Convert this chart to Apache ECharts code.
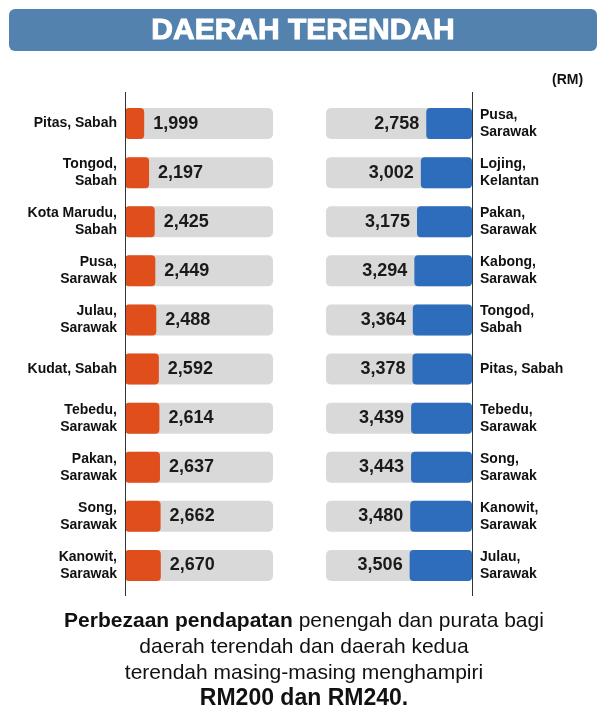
<!DOCTYPE html>
<html>
<head>
<meta charset="utf-8">
<script src="https://cdn.jsdelivr.net/npm/echarts@6/dist/echarts.min.js"></script>
<style>
  html, body { margin: 0; padding: 0; background: #fff; }
  #chart { width: 616px; height: 728px; }
</style>
</head>
<body>
<div id="chart"></div>
<script>
// left side: pendapatan penengah (orange), right side: purata (blue)
var leftNames = ['Pitas, Sabah', 'Tongod,\nSabah', 'Kota Marudu,\nSabah', 'Pusa,\nSarawak', 'Julau,\nSarawak',
    'Kudat, Sabah', 'Tebedu,\nSarawak', 'Pakan,\nSarawak', 'Song,\nSarawak', 'Kanowit,\nSarawak'];
var leftValues = [1999, 2197, 2425, 2449, 2488, 2592, 2614, 2637, 2662, 2670];

var rightNames = ['Pusa,\nSarawak', 'Lojing,\nKelantan', 'Pakan,\nSarawak', 'Kabong,\nSarawak', 'Tongod,\nSabah',
    'Pitas, Sabah', 'Tebedu,\nSarawak', 'Song,\nSarawak', 'Kanowit,\nSarawak', 'Julau,\nSarawak'];
var rightValues = [2758, 3002, 3175, 3294, 3364, 3378, 3439, 3443, 3480, 3506];

var FONT = '"Liberation Sans", Arial, sans-serif';

function fmt(v) {
    return String(v).replace(/\B(?=(\d{3})+(?!\d))/g, ',');
}

var myChart = echarts.init(document.getElementById('chart'));

var labelStyle = {
    fontFamily: FONT,
    fontSize: 14,
    fontWeight: 'bold',
    color: '#111',
    lineHeight: 17
};

var option = {
    backgroundColor: '#fff',
    animation: false,
    title: {
        text: 'DAERAH TERENDAH',
        left: 303,
        top: 16,
        padding: 0,
        textAlign: 'center',
        textStyle: {
            fontFamily: FONT,
            fontSize: 30,
            fontWeight: 900,
            color: '#fff',
            textBorderColor: '#fff',
            textBorderWidth: 1
        },
        z: 10
    },
    grid: [
        {left: 125, width: 148, top: 99, height: 491},
        {left: 326, width: 146, top: 99, height: 491}
    ],
    xAxis: [
        {gridIndex: 0, type: 'value', min: 1225, max: 7200, show: false},
        {gridIndex: 1, type: 'value', min: 700, max: 7270, inverse: true, show: false}
    ],
    yAxis: [
        {
            gridIndex: 0, type: 'category', data: leftNames, inverse: true,
            axisLine: {show: false}, axisTick: {show: false},
            axisLabel: Object.assign({margin: 8, align: 'right'}, labelStyle)
        },
        {
            gridIndex: 1, type: 'category', data: rightNames, inverse: true, position: 'right',
            axisLine: {show: false}, axisTick: {show: false},
            axisLabel: Object.assign({margin: 8, align: 'left'}, labelStyle)
        }
    ],
    series: [
        {
            type: 'bar',
            xAxisIndex: 0, yAxisIndex: 0,
            data: leftValues,
            barWidth: 31,
            showBackground: true,
            backgroundStyle: {color: '#d9d9d9', borderRadius: 5},
            itemStyle: {color: '#e04e1b', borderRadius: 4},
            label: {
                show: true,
                position: 'right',
                distance: 9,
                formatter: function (p) { return fmt(p.value); },
                fontFamily: FONT, fontSize: 18, fontWeight: 'bold', color: '#1a1a1a'
            }
        },
        {
            type: 'bar',
            xAxisIndex: 1, yAxisIndex: 1,
            data: rightValues,
            barWidth: 31,
            showBackground: true,
            backgroundStyle: {color: '#d9d9d9', borderRadius: 5},
            itemStyle: {color: '#2e6dbb', borderRadius: 4},
            label: {
                show: true,
                position: 'left',
                distance: 7,
                formatter: function (p) { return fmt(p.value); },
                fontFamily: FONT, fontSize: 18, fontWeight: 'bold', color: '#1a1a1a'
            }
        }
    ],
    graphic: [
        // title banner
        {
            type: 'rect', z: 0,
            shape: {x: 9, y: 9, width: 588, height: 42, r: 6},
            style: {fill: '#5482ae'}
        },
        {
            type: 'text', left: 552, top: 73,
            style: {text: '(RM)', font: 'bold 14px ' + FONT, fill: '#111'}
        },
        // vertical axis lines
        {
            type: 'line', z: 20,
            shape: {x1: 125.5, y1: 92, x2: 125.5, y2: 596},
            style: {stroke: '#333', lineWidth: 1}
        },
        {
            type: 'line', z: 20,
            shape: {x1: 472.5, y1: 92, x2: 472.5, y2: 596},
            style: {stroke: '#333', lineWidth: 1}
        },
        // note below
        {
            type: 'text', x: 304, y: 608,
            style: {
                text: '{b|Perbezaan pendapatan} penengah dan purata bagi\ndaerah terendah dan daerah kedua\nterendah masing-masing menghampiri\n{big|RM200 dan RM240.}',
                font: '21px ' + FONT,
                fill: '#111',
                textAlign: 'center',
                textVerticalAlign: 'top',
                lineHeight: 26,
                rich: {
                    b: {fontFamily: FONT, fontSize: 21, fontWeight: 'bold', fill: '#111', lineHeight: 26},
                    big: {fontFamily: FONT, fontSize: 23, fontWeight: 'bold', fill: '#111', lineHeight: 26}
                }
            }
        }
    ]
};

myChart.setOption(option);
</script>
</body>
</html>
